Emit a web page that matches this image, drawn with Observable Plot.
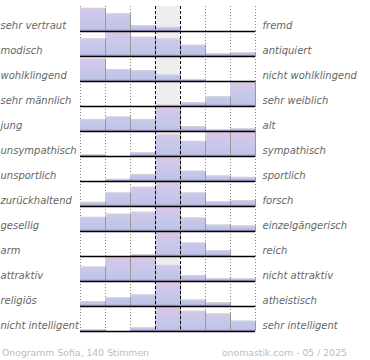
<!DOCTYPE html>
<html><head><meta charset="utf-8">
<script src="https://cdn.jsdelivr.net/npm/d3@7"></script>
<script src="https://cdn.jsdelivr.net/npm/@observablehq/plot@0.6"></script>
<style>body{margin:0;background:#fff} svg{display:block}</style>
</head><body><div id="chart"></div>
<script>
const leftLabels = ["sehr vertraut","modisch","wohlklingend","sehr männlich","jung","unsympathisch","unsportlich","zurückhaltend","gesellig","arm","attraktiv","religiös","nicht intelligent"];
const rightLabels = ["fremd","antiquiert","nicht wohlklingend","sehr weiblich","alt","sympathisch","sportlich","forsch","einzelgängerisch","reich","nicht attraktiv","atheistisch","sehr intelligent"];
// bar heights per row, 7 scale steps (0..25.9 scale)
const values = [
  [24, 18.3, 6, 4.3, 0, 0, 0],
  [18.3, 25, 20, 18.3, 11.7, 3, 4],
  [23.3, 12.3, 11.3, 6.7, 2, 0, 0],
  [0, 0, 0, 1.3, 4, 10, 25],
  [12.3, 15, 12.3, 25, 5, 1.7, 2.7],
  [1.7, 0, 4, 22.5, 15.7, 25, 25],
  [0, 2.3, 7.3, 25, 10.7, 5.7, 4.3],
  [4.3, 14, 20, 25, 14, 5, 6],
  [14.7, 18, 20, 25, 14, 6.7, 5.7],
  [0, 0, 1.7, 25, 14, 6, 0],
  [15, 25, 25, 16.7, 6, 3, 2.7],
  [5, 9, 12, 25, 6.7, 4, 0],
  [1.7, 0, 3.7, 25, 21, 18.3, 10.7]
];
const footerLeft = "Onogramm Sofia, 140 Stimmen";
const footerRight = "onomastik.com - 05 / 2025";

const rows = leftLabels.map((l, i) => ({row: i, left: l, right: rightLabels[i]}));
const cells = values.flatMap((vs, r) => vs.map((v, c) => ({row: r, c, v}))).filter(d => d.v > 0);

const plot = Plot.plot({
  width: 370, height: 360,
  marginLeft: 80, marginRight: 115, marginTop: 0, marginBottom: 23,
  style: {fontFamily: "DejaVu Sans", fontSize: "10px", background: "#fff", overflow: "visible"},
  x: {domain: [0, 7], axis: null},
  y: {domain: [0, 25.9], axis: null},
  fy: {domain: rows.map(d => d.row), axis: null, padding: 0},
  marks: [
    Plot.rect([0], {x1: 3, x2: 4, fill: "#eeeeee"}),
    Plot.ruleX([0, 1, 2, 5, 6, 7], {stroke: "#888", strokeDasharray: "1,2"}),
    Plot.rect(cells, {fy: "row", x1: "c", x2: d => d.c + 1, y1: 0, y2: "v", fill: "url(#barGrad)"}),
    Plot.ruleY(cells, {fy: "row", y: "v", x1: "c", x2: d => d.c + 1, stroke: "#d4d4dc"}),
    Plot.ruleX(cells, {fy: "row", x: d => d.c + 1, y1: 0, y2: "v", stroke: "#999"}),
    Plot.ruleX([3, 4], {stroke: "#000", strokeDasharray: "3,2"}),
    Plot.ruleY([0], {x1: 0, x2: 7, stroke: "#000", strokeWidth: 1.6}),
    Plot.text(rows, {fy: "row", text: "left", frameAnchor: "bottom-left", dx: -80, dy: -2.5, textAnchor: "start", lineAnchor: "bottom", fill: "#666", fontStyle: "italic"}),
    Plot.text(rows, {fy: "row", text: "right", frameAnchor: "bottom-right", dx: 7, dy: -2.5, textAnchor: "start", lineAnchor: "bottom", fill: "#666", fontStyle: "italic"})
  ]
});

const svg = d3.select(plot);
const grad = svg.insert("defs", ":first-child").append("linearGradient")
  .attr("id", "barGrad").attr("gradientUnits", "userSpaceOnUse")
  .attr("x1", 0).attr("x2", 0).attr("y1", 0).attr("y2", 25.9);
[[0, "#e0c6e6"], [0.45, "#c9c8ea"], [0.88, "#bfc5e7"], [0.95, "#a99cd2"], [1, "#9a88c6"]]
  .forEach(([o, c]) => grad.append("stop").attr("offset", o).attr("stop-color", c));
svg.append("text").attr("x", 2).attr("y", 356).attr("fill", "#bbb").attr("text-anchor", "start")
  .attr("font-size", "9.3px").attr("font-family", "DejaVu Sans").text(footerLeft);
svg.append("text").attr("x", 347).attr("y", 356).attr("fill", "#bbb").attr("text-anchor", "end")
  .attr("font-size", "9.3px").attr("font-family", "DejaVu Sans").text(footerRight);

document.getElementById("chart").appendChild(plot);
</script>
</body></html>
